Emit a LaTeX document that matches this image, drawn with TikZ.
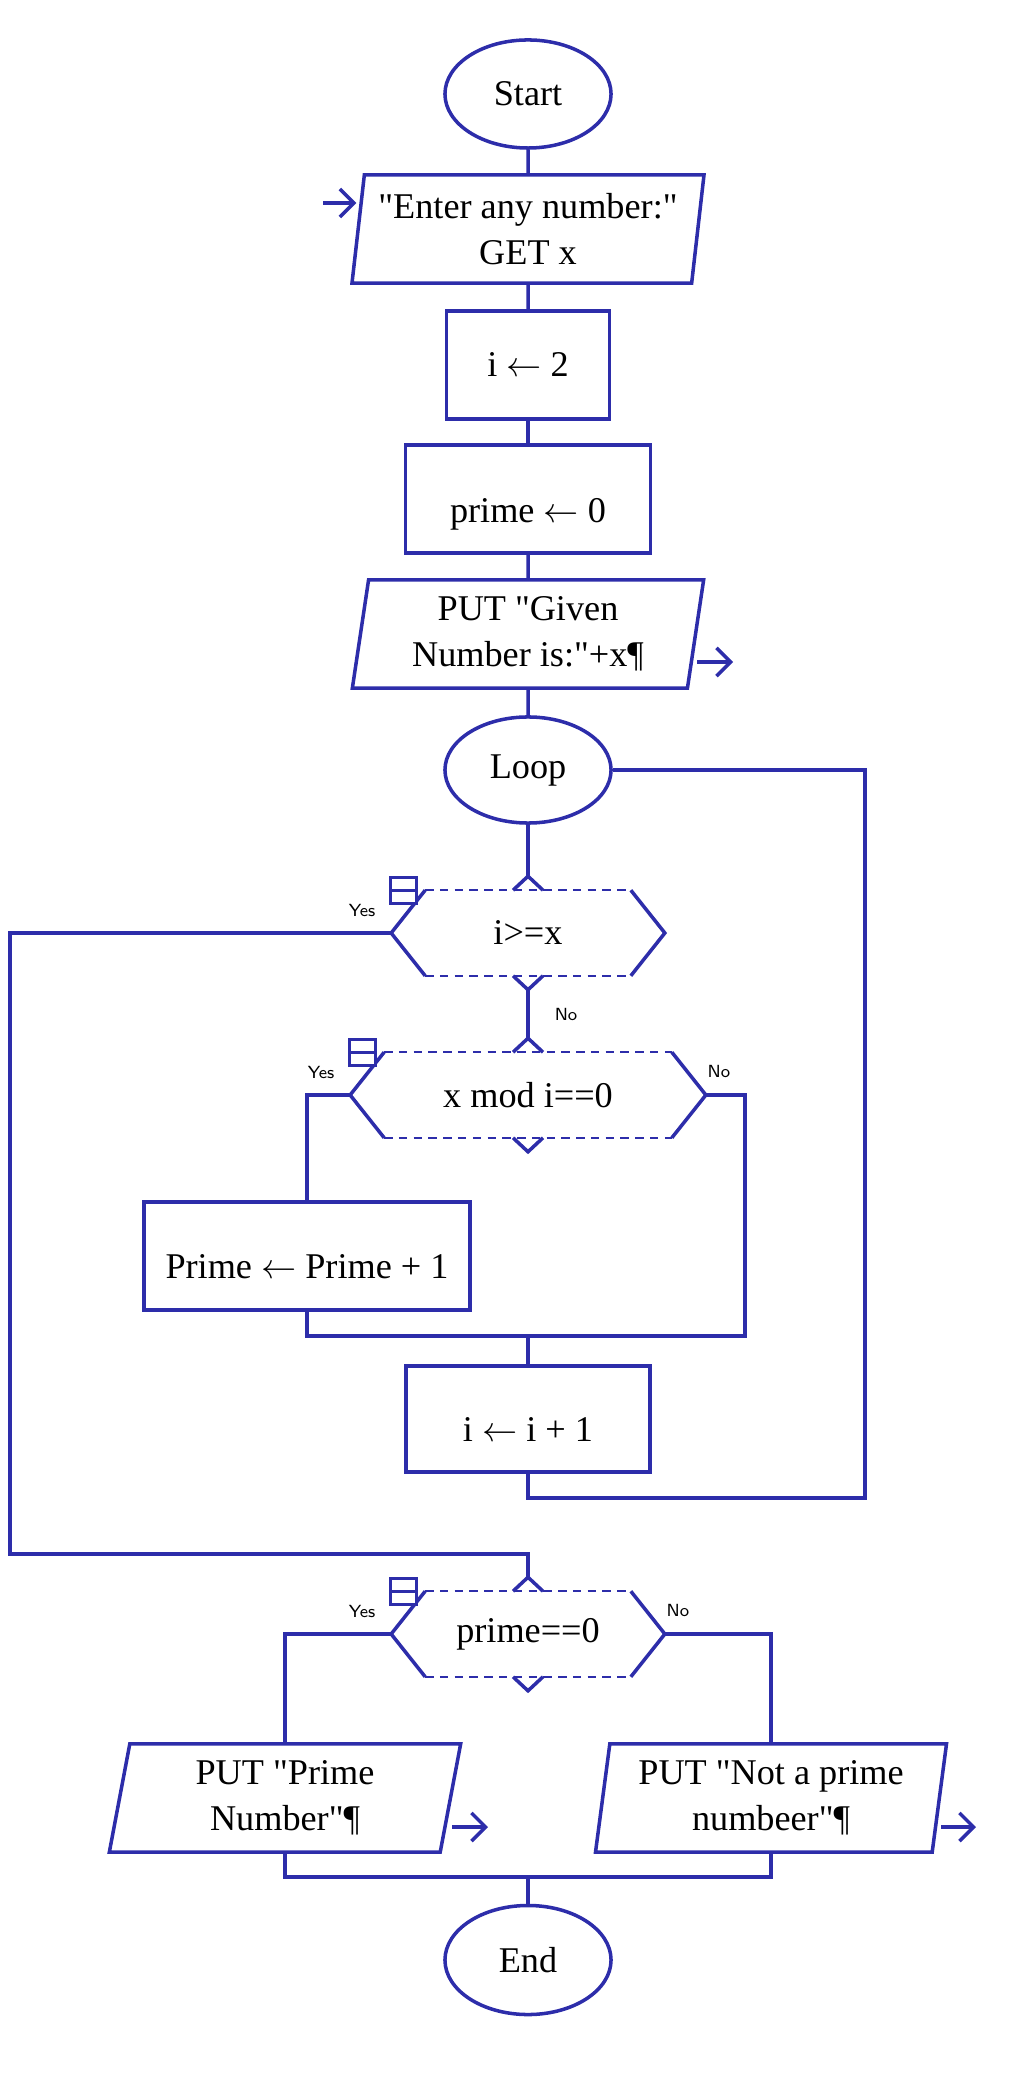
\documentclass[tikz,border=0pt]{standalone}
\usepackage{fontspec}
\setmainfont{Liberation Serif}
\usepackage{amsmath}
\usepackage{xcolor}
\usetikzlibrary{arrows.meta}
\usetikzlibrary{shapes.geometric, positioning, calc}

\definecolor{rblue}{RGB}{45,45,170}

\begin{document}
\begin{tikzpicture} [
	x=0.01cm, y=-0.01cm, % one unit is one pixel of the picture
	color=rblue, line width=1pt, % blue lines everywhere
	every node/.style={text=black, font=\fontsize{10.3}{13}\selectfont, align=center, inner sep=0pt},
	term/.style={draw, ellipse, minimum width=1.66cm, minimum height=1.08cm}, % start, loop and end
	proc/.style={draw, rectangle, minimum height=1.08cm}, % assignments
	io/.style={draw, trapezium, trapezium left angle=81, trapezium right angle=99,
		trapezium stretches=true, minimum width=3.53cm, minimum height=1.08cm}, % GET and PUT
	decision/.style={minimum height=0.82cm}, % outline is drawn below
	minus/.style={draw, rectangle, fill=white, line width=0.8pt, minimum size=0.26cm,
		path picture={\draw (path picture bounding box.west) -- (path picture bounding box.east);}},
	yn/.style={font=\sffamily\fontsize{5}{6}\selectfont}, % Yes / No
	arr/.style={-{Straight Barb[length=4pt,width=8pt]}}, % input and output arrows
	dashedge/.style={line width=0.7pt, dash pattern=on 2.4pt off 1.8pt},
	]
	\useasboundingbox (0,0) rectangle (1020,2080);

	\node[term] (st) at (528,94) {Start};
	\node[io] (get) at (528,229) {\textquotedbl Enter any number:\textquotedbl\\GET x};
	\node[proc, minimum width=1.63cm] (i2) at (528,365) {i $\leftarrow$ 2};
	\node[proc, minimum width=2.45cm, text height=0.55cm] (p0) at (528,499) {prime $\leftarrow$ 0};
	\node[io] (given) at (528,634) {PUT \textquotedbl Given\\Number is:\textquotedbl+x¶};
	\node[term, minimum height=1.06cm] (lp) at (528,770) {Loop};
	\node[decision, minimum width=2.7cm] (d1) at (528,933) {i>=x};
	\node[decision, minimum width=3.52cm] (d2) at (528,1095) {x mod i==0};
	\node[proc, minimum width=3.26cm, text height=0.45cm] (pinc) at (307,1256) {Prime $\leftarrow$ Prime + 1};
	\node[proc, minimum width=2.44cm, minimum height=1.06cm, text height=0.45cm] (i1) at (528,1419) {i $\leftarrow$ i + 1};
	\node[decision, minimum width=2.7cm] (d3) at (528,1634) {prime==0};
	\node[io] (pp) at (285,1798) {PUT \textquotedbl Prime\\Number\textquotedbl¶};
	\node[io] (pn) at (771,1798) {PUT \textquotedbl Not a prime\\numbeer\textquotedbl¶};
	\node[term, minimum height=1.09cm] (en) at (528,1960) {End};

	% hexagon outlines of the selections
	\foreach \d in {d1, d2, d3} {
		\draw ($(\d.north west)+(34,0)$) -- (\d.west) -- ($(\d.south west)+(34,0)$);
		\draw ($(\d.north east)+(-34,0)$) -- (\d.east) -- ($(\d.south east)+(-34,0)$);
		\draw[dashedge] ($(\d.north west)+(34,0)$) -- ($(\d.north east)+(-34,0)$);
		\draw[dashedge] ($(\d.south west)+(34,0)$) -- ($(\d.south east)+(-34,0)$);
		\coordinate (\d-t) at ($(\d.north)+(0,-14)$);
		\coordinate (\d-b) at ($(\d.south)+(0,14)$);
		\draw ($(\d.north)+(-15,0)$) -- (\d-t) -- ($(\d.north)+(15,0)$);
		\draw ($(\d.south)+(-15,0)$) -- (\d-b) -- ($(\d.south)+(15,0)$);
		\node[minus] (\d-m) at ($(\d.north west)+(12,0)$) {};
		\node[yn] (\d-y) at ($(\d.north west)+(-29,20)$) {Yes};
	}
	\node[yn] (d2-n) at ($(d2.north east)+(13,19)$) {No};
	\node[yn] (d3-n) at ($(d3.north east)+(13,19)$) {No};

	\coordinate (getin) at (323,203);
	\coordinate (givenout) at (733,662);
	\coordinate (ppout) at (488,1827);
	\coordinate (pnout) at (976,1827);
	\coordinate (lft) at (10,1554);
	\coordinate (rgt) at (865,1498);
	\coordinate (mdno) at (745,1336);
	\coordinate (bot) at (528,1877);

	\draw
		(st) edge (get)
		(get) edge (i2)
		(i2) edge (p0)
		(p0) edge (given)
		(given) edge (lp)
		(lp) edge (d1-t)
		(d1-b) edge node[yn, right=0.25cm] (d1-n) {No} (d2-t)
		(mdno -| i1.north) edge (i1)
		(bot) edge (en)
	;
	\draw (d1.west) -| (lft) -| (d3-t);
	\draw (d2.west) -| (pinc.north);
	\draw (d2.east) -| (mdno) -- (mdno -| pinc.south) -- (pinc.south);
	\draw (i1.south) |- (rgt) |- (lp.east);
	\draw (d3.west) -| (pp.north);
	\draw (d3.east) -| (pn.north);
	\draw (pp.south) |- (bot) -| (pn.south);

	\draw[arr] (getin) -- (getin -| get.west);
	\draw[arr] (givenout -| given.east) -- (givenout);
	\draw[arr] (ppout -| pp.east) -- (ppout);
	\draw[arr] (pnout -| pn.east) -- (pnout);
\end{tikzpicture}
\end{document}
